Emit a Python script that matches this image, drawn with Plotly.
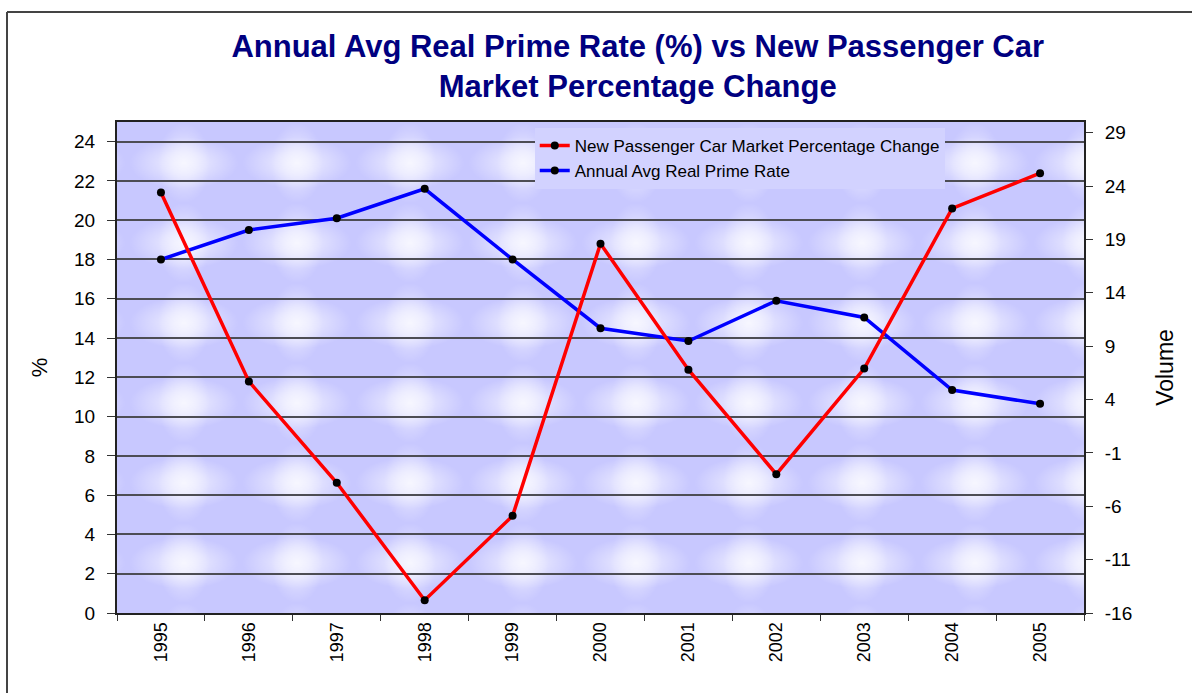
import base64
import plotly.graph_objects as go

years = ["1995", "1996", "1997", "1998", "1999", "2000", "2001", "2002", "2003", "2004", "2005"]
car_market_change = [23.4, 5.7, -3.8, -14.8, -6.9, 18.6, 6.8, -3.0, 6.9, 21.9, 25.2]
real_prime_rate = [18.0, 19.5, 20.1, 21.6, 18.0, 14.5, 13.85, 15.9, 15.05, 11.35, 10.65]
left_ticks = list(range(0, 25, 2))
right_ticks = [-16, -11, -6, -1, 4, 9, 14, 19, 24, 29]
right_tick_labels = [str(v) for v in right_ticks]

FONT = "Arial, Liberation Sans, sans-serif"

# textured plot-area background (tiled soft white glows on light periwinkle)
svg = (
    "<svg xmlns='http://www.w3.org/2000/svg' width='967' height='491'>"
    "<defs>"
    "<radialGradient id='g'>"
    "<stop offset='0' stop-color='#FFFFFF' stop-opacity='1'/>"
    "<stop offset='0.4' stop-color='#FFFFFF' stop-opacity='0.7'/>"
    "<stop offset='1' stop-color='#FFFFFF' stop-opacity='0'/>"
    "</radialGradient>"
    "<pattern id='p' x='10.5' y='1' width='113' height='80' patternUnits='userSpaceOnUse'>"
    "<rect width='113' height='80' fill='#C8C8FF'/>"
    "<ellipse cx='56.5' cy='40' rx='54' ry='26' fill='url(#g)' opacity='0.65'/>"
    "<ellipse cx='56.5' cy='40' rx='26' ry='40' fill='url(#g)' opacity='0.55'/>"
    "</pattern>"
    "</defs>"
    "<rect width='967' height='491' fill='url(#p)'/>"
    "</svg>"
)
bg_uri = "data:image/svg+xml;base64," + base64.b64encode(svg.encode()).decode()

fig = go.Figure()

fig.add_trace(go.Scatter(
    x=years, y=real_prime_rate, name="Annual Avg Real Prime Rate",
    mode="lines+markers", yaxis="y",
    line=dict(color="#0000FF", width=3.5),
    marker=dict(color="black", size=8),
    legendrank=2,
))
fig.add_trace(go.Scatter(
    x=years, y=car_market_change, name="New Passenger Car Market Percentage Change",
    mode="lines+markers", yaxis="y2",
    line=dict(color="#FF0000", width=3.5),
    marker=dict(color="black", size=8),
    legendrank=1,
))

fig.update_layout(
    width=1192, height=693,
    margin=dict(l=117, r=108, t=122, b=80),
    paper_bgcolor="white",
    plot_bgcolor="#C8C8FF",
    font=dict(family=FONT, color="black"),
    title=dict(
        text="<b>Annual Avg Real Prime Rate (%) vs New Passenger Car<br>Market Percentage Change</b>",
        x=0.535, xanchor="center", y=0.918, yanchor="middle",
        font=dict(family=FONT, size=31, color="#000080"),
    ),
    xaxis=dict(
        type="category", range=[-0.5, 10.5],
        tickson="boundaries", ticks="outside", ticklen=6, tickcolor="#333",
        tickangle=-90, tickfont=dict(size=18),
        showline=True, linecolor="#222", linewidth=2, mirror=True,
        showgrid=False,
    ),
    yaxis=dict(
        range=[0, 25], tickvals=left_ticks, ticks="outside", ticklen=8,
        tickcolor="#333", tickfont=dict(size=19), ticklabelstandoff=8,
        showline=True, linecolor="#222", linewidth=2,
        showgrid=True, gridcolor="#4d4d55", gridwidth=1.5,
        zeroline=False,
        title=dict(text="%", font=dict(size=22), standoff=20),
    ),
    yaxis2=dict(
        range=[-16, 30], tickvals=right_ticks, ticktext=right_tick_labels,
        overlaying="y", side="right",
        ticks="outside", ticklen=7, tickcolor="#333",
        tickfont=dict(size=19), ticklabelstandoff=8,
        showline=True, linecolor="#222", linewidth=2,
        showgrid=False, zeroline=False,
        title=dict(text="Volume", font=dict(size=23), standoff=26),
    ),
    legend=dict(
        x=0.644, xanchor="center", y=0.988, yanchor="top",
        bgcolor="#D2D2FF", borderwidth=0,
        font=dict(size=17, color="black"),
        tracegroupgap=0,
    ),
    showlegend=True,
    images=[dict(
        source=bg_uri, xref="paper", yref="paper", x=0, y=1,
        sizex=1, sizey=1, sizing="stretch", xanchor="left", yanchor="top",
        layer="below",
    )],
    shapes=[
        dict(type="line", xref="paper", yref="paper",
             x0=-0.11375, x1=-0.11375, y0=-0.2, y1=1.224,
             line=dict(color="#444", width=2)),
        dict(type="line", xref="paper", yref="paper",
             x0=-0.11375, x1=1.2, y0=1.224, y1=1.224,
             line=dict(color="#444", width=2)),
    ],
)

fig.write_html(
    "out.html",
    config={"displayModeBar": False},
    post_script="document.body.style.margin='0';",
)
